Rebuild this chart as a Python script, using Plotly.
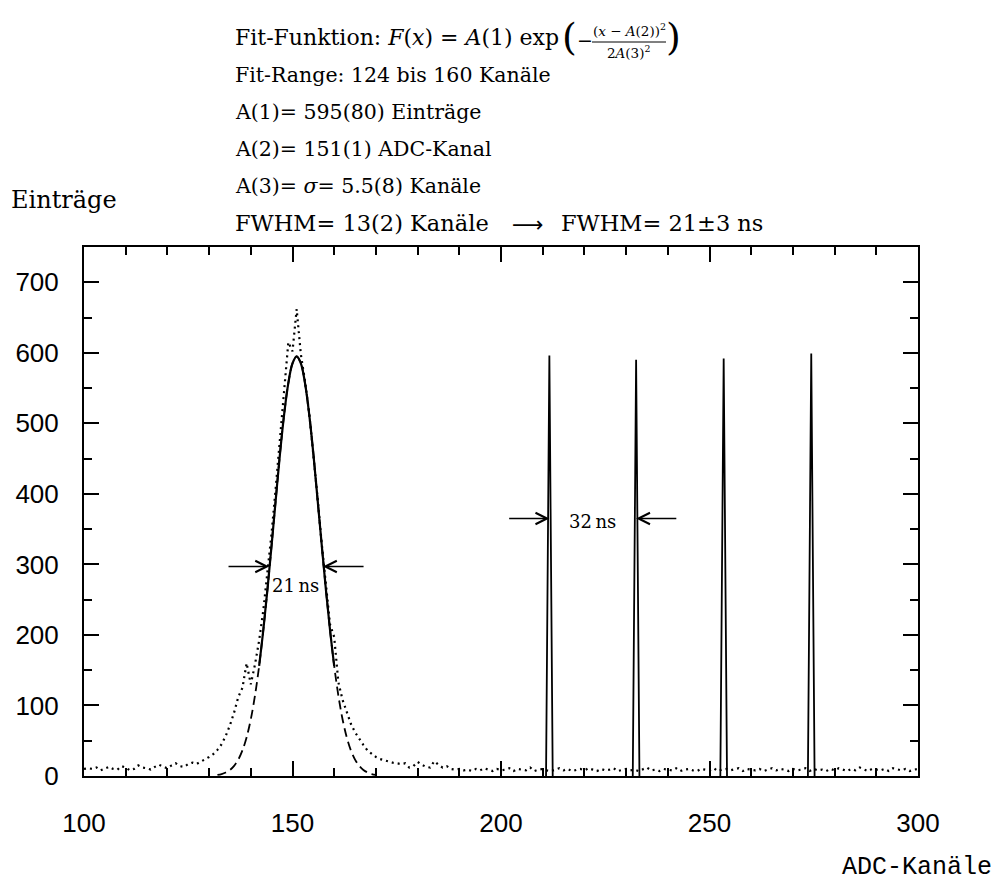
import plotly.graph_objects as go

# ---------------- data ----------------
channels = list(range(100, 301))
counts = [
    10, 11, 10, 12, 8, 11, 13, 10, 9, 14,          # 100-109
    12, 8, 10, 15, 12, 11, 9, 13, 16, 13,          # 110-119
    11, 15, 18, 14, 13, 17, 19, 17, 20, 24,        # 120-129
    27, 31, 37, 45, 57, 72, 90, 112, 125, 160,     # 130-139
    130, 158, 192, 235, 290, 345, 410, 475, 540, 615,  # 140-149
    602, 662, 598, 560, 515, 458, 395, 330, 270, 215,  # 150-159
    197, 133, 108, 90, 74, 62, 52, 44, 36, 31,     # 160-169
    27, 24, 22, 20, 19, 18, 17, 18, 12, 14,        # 170-179
    20, 16, 13, 12, 21, 16, 12, 14, 10, 9,         # 180-189
    10, 8, 9, 7, 10, 8, 11, 9, 7, 10,              # 190-199
    8, 9, 11, 7, 10, 9, 8, 12, 7, 9,               # 200-209
    10, 8, 7, 9, 11, 8, 10, 7, 9, 10,              # 210-219
    8, 11, 9, 7, 10, 8, 9, 11, 7, 9,               # 220-229
    10, 8, 9, 7, 10, 12, 8, 9, 7, 10,              # 230-239
    9, 8, 11, 7, 9, 10, 8, 7, 10, 9,               # 240-249
    8, 11, 7, 9, 10, 8, 9, 11, 7, 10,              # 250-259
    9, 8, 10, 7, 9, 11, 8, 10, 9, 7,               # 260-269
    10, 8, 9, 11, 7, 10, 8, 9, 7, 10,              # 270-279
    8, 11, 9, 7, 10, 8, 12, 9, 7, 10,              # 280-289
    9, 8, 10, 7, 11, 9, 8, 10, 7, 9,               # 290-299
    10,                                            # 300
]

fit_channels = list(range(132, 171))
fit_values = [
    1.5, 2.8, 5.0, 8.6, 14.4, 23.3, 36.4, 55.1, 80.5, 114,
    156, 207, 265, 328, 393, 457, 513, 557, 585, 595,
    585, 557, 513, 457, 393, 328, 265, 207, 156, 114,
    80.5, 55.1, 36.4, 23.3, 14.4, 8.6, 5.0, 2.8, 1.5,
]
solid_from, solid_to = 142, 160

spike_centers = [211.6, 232.4, 253.4, 274.4]
spike_heights = [596, 590, 592, 599]
spike_halfwidth = 0.8

x_tickvals = [100, 150, 200, 250, 300]
y_tickvals = [0, 100, 200, 300, 400, 500, 600, 700]

fwhm_fit = dict(left=144.4, right=157.3, level=297, tail=10.1, label="21\u2009ns", label_x=150.8, label_y=270)
fwhm_pulse = dict(left=211.6, right=232.4, level=365, tail=10.0, label="32\u2009ns", label_x=221.9, label_y=361)

header_lines = [
    "Fit-Range: 124 bis 160 Kanäle",
    "A(1)= 595(80) Einträge",
    "A(2)= 151(1) ADC-Kanal",
    "A(3)= <i>σ</i>= 5.5(8) Kanäle",
]
fwhm_parts = ["FWHM= 13(2) Kanäle", "⟶", "FWHM= 21±3 ns"]

# ---------------- geometry helpers ----------------
W, H = 995, 895
L, R, T, B = 84, 918, 247, 776


def px(xp):
    return (xp - L) / (R - L)


def py(yp):
    return (B - yp) / (B - T)


SERIF = "DejaVu Serif"
fig = go.Figure()

# measured spectrum (dotted)
fig.add_trace(go.Scatter(x=channels, y=counts, mode="lines",
                         line=dict(color="black", width=2.2, dash="2px,4px"),
                         showlegend=False, hoverinfo="skip"))

# fit function (dashed, full)
fig.add_trace(go.Scatter(x=fit_channels, y=fit_values, mode="lines",
                         line=dict(color="black", width=1.8, dash="9px,5px", shape="spline"),
                         showlegend=False, hoverinfo="skip"))

# fit function (solid, in range)
sx = [c for c in fit_channels if solid_from <= c <= solid_to]
sy = [v for c, v in zip(fit_channels, fit_values) if solid_from <= c <= solid_to]
fig.add_trace(go.Scatter(x=sx, y=sy, mode="lines",
                         line=dict(color="black", width=2.2, shape="spline"),
                         showlegend=False, hoverinfo="skip"))

# calibration pulses (solid spikes)
kx, ky = [], []
for c, h in zip(spike_centers, spike_heights):
    kx += [c - spike_halfwidth, c, c + spike_halfwidth, None]
    ky += [0, h, 0, None]
fig.add_trace(go.Scatter(x=kx, y=ky, mode="lines",
                         line=dict(color="black", width=1.8),
                         showlegend=False, hoverinfo="skip"))

annotations = []

# FWHM arrows
for d in (fwhm_fit, fwhm_pulse):
    annotations.append(dict(x=d["left"], y=d["level"], ax=d["left"] - d["tail"], ay=d["level"],
                            xref="x", yref="y", axref="x", ayref="y", text="",
                            showarrow=True, arrowhead=5, arrowsize=1.4, arrowwidth=1.6,
                            arrowcolor="black", standoff=0))
    annotations.append(dict(x=d["right"], y=d["level"], ax=d["right"] + d["tail"], ay=d["level"],
                            xref="x", yref="y", axref="x", ayref="y", text="",
                            showarrow=True, arrowhead=5, arrowsize=1.4, arrowwidth=1.6,
                            arrowcolor="black", standoff=0))
    annotations.append(dict(x=d["label_x"], y=d["label_y"], xref="x", yref="y",
                            text=d["label"], showarrow=False,
                            font=dict(family=SERIF, size=18, color="black"),
                            xanchor="center", yanchor="middle"))

# header, first line with fraction
annotations.append(dict(x=px(233), y=py(37), xref="paper", yref="paper",
                        text="Fit-Funktion: <i>F</i>(<i>x</i>) = <i>A</i>(1) exp",
                        showarrow=False, xanchor="left", yanchor="middle",
                        font=dict(family=SERIF, size=22, color="black")))
annotations.append(dict(x=px(569), y=py(37), xref="paper", yref="paper", text="(",
                        showarrow=False, xanchor="center", yanchor="middle",
                        font=dict(family=SERIF, size=38, color="black")))
annotations.append(dict(x=px(585), y=py(40), xref="paper", yref="paper", text="−",
                        showarrow=False, xanchor="center", yanchor="middle",
                        font=dict(family=SERIF, size=19, color="black")))
annotations.append(dict(x=px(629), y=py(30), xref="paper", yref="paper",
                        text="(<i>x</i> − <i>A</i>(2))<sup>2</sup>",
                        showarrow=False, xanchor="center", yanchor="middle",
                        font=dict(family=SERIF, size=13.5, color="black")))
annotations.append(dict(x=px(628), y=py(52), xref="paper", yref="paper",
                        text="2<i>A</i>(3)<sup>2</sup>",
                        showarrow=False, xanchor="center", yanchor="middle",
                        font=dict(family=SERIF, size=13.5, color="black")))
annotations.append(dict(x=px(673), y=py(37), xref="paper", yref="paper", text=")",
                        showarrow=False, xanchor="center", yanchor="middle",
                        font=dict(family=SERIF, size=38, color="black")))

line_y = [75, 112, 149, 186]
for t, yy in zip(header_lines, line_y):
    annotations.append(dict(x=px(233), y=py(yy), xref="paper", yref="paper", text=t,
                            showarrow=False, xanchor="left", yanchor="middle",
                            font=dict(family=SERIF, size=20.5, color="black")))

# last header line: three pieces
annotations.append(dict(x=px(233), y=py(223), xref="paper", yref="paper", text=fwhm_parts[0],
                        showarrow=False, xanchor="left", yanchor="middle",
                        font=dict(family=SERIF, size=22.5, color="black")))
annotations.append(dict(x=px(528), y=py(224), xref="paper", yref="paper", text=fwhm_parts[1],
                        showarrow=False, xanchor="center", yanchor="middle",
                        font=dict(family="DejaVu Sans", size=22, color="black")))
annotations.append(dict(x=px(559), y=py(223), xref="paper", yref="paper", text=fwhm_parts[2],
                        showarrow=False, xanchor="left", yanchor="middle",
                        font=dict(family=SERIF, size=22.5, color="black")))

# axis titles
annotations.append(dict(x=px(9), y=py(200), xref="paper", yref="paper", text="Einträge",
                        showarrow=False, xanchor="left", yanchor="middle",
                        font=dict(family=SERIF, size=24, color="black")))
annotations.append(dict(x=px(994), y=py(868), xref="paper", yref="paper", text="ADC-Kanäle",
                        showarrow=False, xanchor="right", yanchor="middle",
                        font=dict(family="Liberation Mono", size=25, color="black")))

shapes = [dict(type="line", xref="paper", yref="paper",
               x0=px(592), x1=px(666), y0=py(42), y1=py(42),
               line=dict(color="black", width=1))]

axis_common = dict(showline=True, linecolor="black", linewidth=2, mirror="allticks",
                   ticks="inside", ticklen=15, tickwidth=1.5, tickcolor="black",
                   showgrid=False, zeroline=False,
                   tickfont=dict(family="Liberation Sans", size=26, color="black"))

fig.update_layout(
    width=W, height=H,
    margin=dict(l=L, r=W - R, t=T, b=H - B, pad=0),
    paper_bgcolor="white", plot_bgcolor="white",
    showlegend=False,
    xaxis=dict(range=[100, 300], tickvals=x_tickvals, ticktext=[str(v) for v in x_tickvals],
               minor=dict(dtick=10, tick0=100, ticks="inside", ticklen=8, tickwidth=1.5, tickcolor="black"),
               ticklabelstandoff=23, **axis_common),
    yaxis=dict(range=[0, 750], tickvals=y_tickvals, ticktext=[str(v) for v in y_tickvals],
               minor=dict(dtick=50, tick0=0, ticks="inside", ticklen=8, tickwidth=1.5, tickcolor="black"),
               ticklabelstandoff=18, **axis_common),
    annotations=annotations,
    shapes=shapes,
)

fig.write_html("out.html")
